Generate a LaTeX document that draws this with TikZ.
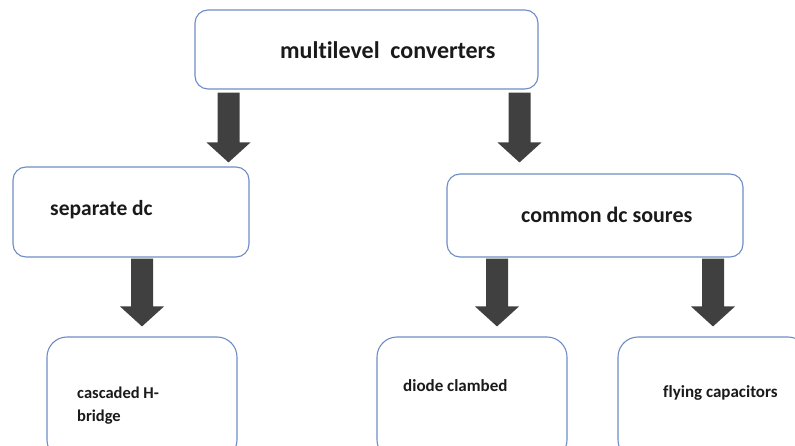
\documentclass[tikz,border=0pt]{standalone}
\usepackage{fontspec}
\setmainfont{Carlito}[Ligatures={NoCommon}]
\usetikzlibrary{calc}
\definecolor{boxline}{HTML}{6E8CC6}
\definecolor{arrowfill}{HTML}{404040}
\definecolor{ink}{HTML}{1A1A1A}
% block arrow: #1 start of shaft, #2 tip
\newcommand\blkarrow[2]{%
  \fill[arrowfill] let \p1=(#1), \p2=(#2) in
    (\x1-11pt,\y1) -- (\x1+11pt,\y1) -- (\x1+11pt,\y2+20pt) -- (\x1+22pt,\y2+20pt)
    -- (\x1,\y2) -- (\x1-22pt,\y2+20pt) -- (\x1-11pt,\y2+20pt) -- cycle;}
\begin{document}
\begin{tikzpicture}[x=1pt,y=-1pt,
  box/.style={draw=boxline,line width=1.1pt,fill=white,rounded corners=#1,
    inner sep=0pt,anchor=center},
  box/.default=13pt,
  lbl/.style={anchor=west,inner sep=0pt,text=ink,font=\bfseries}]
\useasboundingbox (0,0) rectangle (795,446);
\clip (0,0) rectangle (795,446);
% boxes
\node[box,minimum width=343pt,minimum height=79pt] (top) at (366.5,49.5) {};
\node[box,minimum width=236pt,minimum height=90pt] (sep) at (131,212) {};
\node[box,minimum width=296pt,minimum height=83pt] (com) at (595,215.5) {};
\node[box=20pt,minimum width=190pt,minimum height=123pt] (cas) at (142,398.5) {};
\node[box=20pt,minimum width=190pt,minimum height=123pt] (dio) at (472,398.5) {};
\node[box=20pt,minimum width=190pt,minimum height=123pt] (fly) at (713,398.5) {};
% labels
\node[lbl,font=\bfseries\fontsize{24}{28}\selectfont] (tl) at (280,50) {multilevel\hspace{0.45em}converters};
\node[lbl,font=\bfseries\fontsize{21.5}{25}\selectfont] (sl) at (50,210) {separate dc};
\node[lbl,font=\bfseries\fontsize{22}{26}\selectfont] (cl) at (521,215) {common dc soures};
\node[lbl,font=\bfseries\fontsize{16.5}{23}\selectfont,align=left] (csl) at (77,406) {cascaded H-\\bridge};
\node[lbl,font=\bfseries\fontsize{17}{21}\selectfont] (dl) at (403,386) {diode clambed};
\node[lbl,font=\bfseries\fontsize{17}{21}\selectfont] (fl) at (663,393) {flying capacitors};
% connectors
\blkarrow{$(top.south -| 228.5,0)+(0,3)$}{$(sep.north -| 228.5,0)+(0,-4)$}
\blkarrow{$(top.south -| 519.5,0)+(0,3)$}{$(com.north -| 519.5,0)+(0,-11)$}
\blkarrow{$(sep.south -| 142,0)+(0,1)$}{$(cas.north -| 142,0)+(0,-10)$}
\blkarrow{$(com.south -| 497,0)+(0,1)$}{$(dio.north -| 497,0)+(0,-10)$}
\blkarrow{$(com.south -| 713,0)+(0,1)$}{$(fly.north -| 713,0)+(0,-10)$}
\end{tikzpicture}
\end{document}
